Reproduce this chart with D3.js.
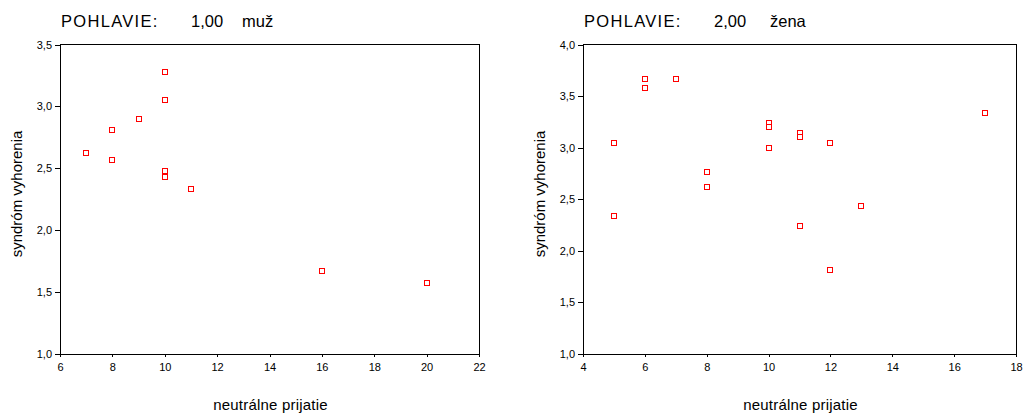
<!DOCTYPE html>
<html>
<head>
<meta charset="utf-8">
<script src="https://cdn.jsdelivr.net/npm/d3@7"></script>
<style>
  body { margin: 0; background: #fff; }
  svg { display: block; font-family: Arial, "Liberation Sans", sans-serif; }
  .axis path, .axis line { stroke: #000; shape-rendering: crispEdges; }
  .axis text { font-size: 11px; fill: #000; }
</style>
</head>
<body>
<svg id="chart" width="1027" height="414"></svg>
<script>
// muž (POHLAVIE 1,00)
const menX = [7, 8, 8, 9, 10, 10, 10, 10, 11, 16, 20];
const menY = [2.62, 2.81, 2.57, 2.90, 3.28, 3.05, 2.48, 2.43, 2.33, 1.67, 1.57];
// žena (POHLAVIE 2,00)
const womenX = [5, 5, 6, 6, 6, 7, 8, 8, 8, 10, 10, 10, 11, 11, 11, 12, 12, 13, 17];
const womenY = [3.05, 2.34, 3.67, 3.67, 3.58, 3.67, 2.76, 2.76, 2.62, 3.24, 3.20, 3.00, 3.14, 3.10, 2.24, 3.05, 1.81, 2.43, 3.34];

const menXTicks = [6, 8, 10, 12, 14, 16, 18, 20, 22];
const menYTicks = [1.0, 1.5, 2.0, 2.5, 3.0, 3.5];
const womenXTicks = [4, 6, 8, 10, 12, 14, 16, 18];
const womenYTicks = [1.0, 1.5, 2.0, 2.5, 3.0, 3.5, 4.0];

const xTitle = 'neutrálne prijatie';
const yTitle = 'syndróm vyhorenia';

const panels = [
  { code: '1,00', label: 'muž', xs: menX, ys: menY, xTicks: menXTicks, yTicks: menYTicks,
    left: 60, right: 479, codeX: 191, labelX: 242, yTitleX: 22 },
  { code: '2,00', label: 'žena', xs: womenX, ys: womenY, xTicks: womenXTicks, yTicks: womenYTicks,
    left: 583, right: 1016, codeX: 714, labelX: 770, yTitleX: 545 }
];

const plotTop = 44.5, plotBottom = 354;
const svg = d3.select('#chart');
const comma = (d) => d3.format('.1f')(d).replace('.', ',');

panels.forEach((p) => {
  const x = d3.scaleLinear()
    .domain(d3.extent(p.xTicks))
    .range([p.left, p.right]);
  const y = d3.scaleLinear()
    .domain(d3.extent(p.yTicks))
    .range([plotBottom, plotTop]);

  const g = svg.append('g');

  // title
  g.append('text')
    .attr('x', p.left + 1).attr('y', 27)
    .attr('font-size', 16.5).attr('letter-spacing', 1.3)
    .text('POHLAVIE:');
  g.append('text')
    .attr('x', p.codeX).attr('y', 27)
    .attr('font-size', 16.5)
    .text(p.code);
  g.append('text')
    .attr('x', p.labelX).attr('y', 27)
    .attr('font-size', 16.5)
    .text(p.label);

  // frame
  g.append('rect')
    .attr('x', p.left).attr('y', plotTop)
    .attr('width', p.right - p.left).attr('height', plotBottom - plotTop)
    .attr('fill', 'none').attr('stroke', '#000')
    .attr('shape-rendering', 'crispEdges');

  g.append('g')
    .attr('class', 'axis')
    .attr('transform', `translate(0,${plotBottom})`)
    .call(d3.axisBottom(x).tickValues(p.xTicks).tickSize(3).tickPadding(6).tickSizeOuter(0));

  g.append('g')
    .attr('class', 'axis')
    .attr('transform', `translate(${p.left},0)`)
    .call(d3.axisLeft(y).tickValues(p.yTicks).tickFormat(comma).tickSize(5).tickPadding(3).tickSizeOuter(0));

  // axis titles
  g.append('text')
    .attr('text-anchor', 'middle')
    .attr('x', (p.left + p.right) / 2 + 1).attr('y', 410)
    .attr('font-size', 15).attr('letter-spacing', 0.2)
    .text(xTitle);
  g.append('text')
    .attr('text-anchor', 'middle')
    .attr('transform', `translate(${p.yTitleX},194) rotate(-90)`)
    .attr('font-size', 15)
    .text(yTitle);

  // points
  g.append('g').selectAll('rect')
    .data(p.xs.map((v, i) => [v, p.ys[i]]))
    .enter()
    .append('rect')
    .attr('x', (d) => Math.round(x(d[0])) - 2.5)
    .attr('y', (d) => Math.round(y(d[1])) - 2.5)
    .attr('width', 5).attr('height', 5)
    .attr('fill', '#fff')
    .attr('stroke', '#ff0000')
    .attr('stroke-width', 1);
});
</script>
</body>
</html>
